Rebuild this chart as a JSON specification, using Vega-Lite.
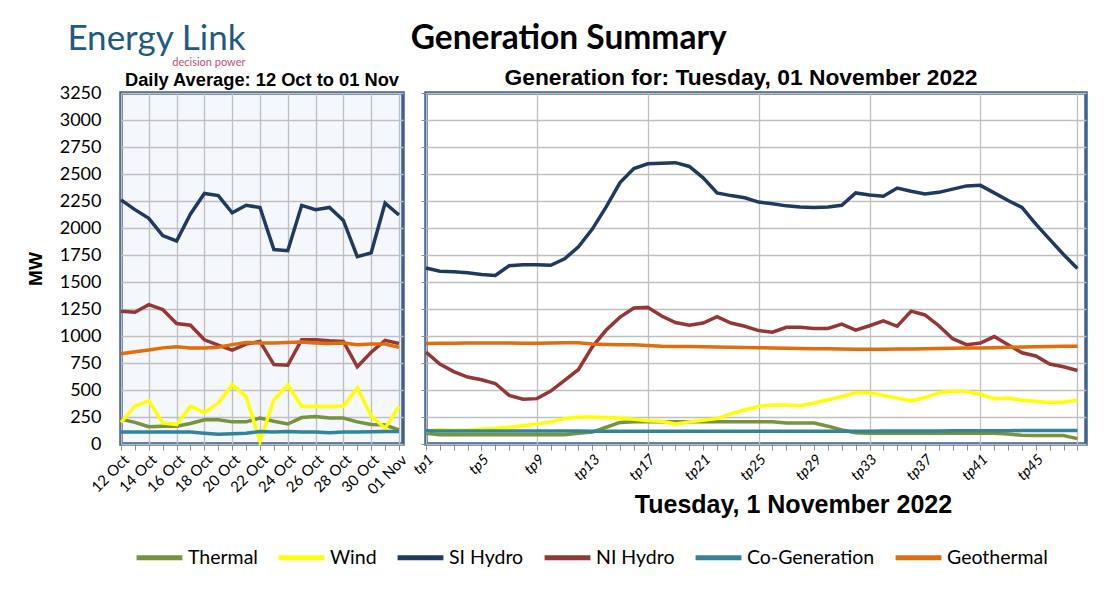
{
  "$schema": "https://vega.github.io/schema/vega-lite/v6.json",
  "background": "white",
  "padding": {"left": 24, "top": 22, "right": 20, "bottom": 10},
  "datasets": {
    "daily": [
      {"d":"12 Oct","s":"Thermal","v":230},{"d":"13 Oct","s":"Thermal","v":200},{"d":"14 Oct","s":"Thermal","v":160},{"d":"15 Oct","s":"Thermal","v":165},{"d":"16 Oct","s":"Thermal","v":165},{"d":"17 Oct","s":"Thermal","v":190},{"d":"18 Oct","s":"Thermal","v":225},{"d":"19 Oct","s":"Thermal","v":225},{"d":"20 Oct","s":"Thermal","v":205},{"d":"21 Oct","s":"Thermal","v":205},{"d":"22 Oct","s":"Thermal","v":240},{"d":"23 Oct","s":"Thermal","v":210},{"d":"24 Oct","s":"Thermal","v":185},{"d":"25 Oct","s":"Thermal","v":245},{"d":"26 Oct","s":"Thermal","v":255},{"d":"27 Oct","s":"Thermal","v":240},{"d":"28 Oct","s":"Thermal","v":240},{"d":"29 Oct","s":"Thermal","v":205},{"d":"30 Oct","s":"Thermal","v":180},{"d":"31 Oct","s":"Thermal","v":175},{"d":"01 Nov","s":"Thermal","v":130},
      {"d":"12 Oct","s":"Wind","v":200},{"d":"13 Oct","s":"Wind","v":350},{"d":"14 Oct","s":"Wind","v":400},{"d":"15 Oct","s":"Wind","v":195},{"d":"16 Oct","s":"Wind","v":180},{"d":"17 Oct","s":"Wind","v":350},{"d":"18 Oct","s":"Wind","v":290},{"d":"19 Oct","s":"Wind","v":380},{"d":"20 Oct","s":"Wind","v":550},{"d":"21 Oct","s":"Wind","v":440},{"d":"22 Oct","s":"Wind","v":25},{"d":"23 Oct","s":"Wind","v":410},{"d":"24 Oct","s":"Wind","v":545},{"d":"25 Oct","s":"Wind","v":350},{"d":"26 Oct","s":"Wind","v":350},{"d":"27 Oct","s":"Wind","v":350},{"d":"28 Oct","s":"Wind","v":350},{"d":"29 Oct","s":"Wind","v":520},{"d":"30 Oct","s":"Wind","v":260},{"d":"31 Oct","s":"Wind","v":145},{"d":"01 Nov","s":"Wind","v":350},
      {"d":"12 Oct","s":"SI Hydro","v":2260},{"d":"13 Oct","s":"SI Hydro","v":2170},{"d":"14 Oct","s":"SI Hydro","v":2090},{"d":"15 Oct","s":"SI Hydro","v":1930},{"d":"16 Oct","s":"SI Hydro","v":1880},{"d":"17 Oct","s":"SI Hydro","v":2130},{"d":"18 Oct","s":"SI Hydro","v":2320},{"d":"19 Oct","s":"SI Hydro","v":2300},{"d":"20 Oct","s":"SI Hydro","v":2140},{"d":"21 Oct","s":"SI Hydro","v":2210},{"d":"22 Oct","s":"SI Hydro","v":2190},{"d":"23 Oct","s":"SI Hydro","v":1800},{"d":"24 Oct","s":"SI Hydro","v":1790},{"d":"25 Oct","s":"SI Hydro","v":2210},{"d":"26 Oct","s":"SI Hydro","v":2170},{"d":"27 Oct","s":"SI Hydro","v":2190},{"d":"28 Oct","s":"SI Hydro","v":2070},{"d":"29 Oct","s":"SI Hydro","v":1735},{"d":"30 Oct","s":"SI Hydro","v":1770},{"d":"31 Oct","s":"SI Hydro","v":2230},{"d":"01 Nov","s":"SI Hydro","v":2120},
      {"d":"12 Oct","s":"NI Hydro","v":1230},{"d":"13 Oct","s":"NI Hydro","v":1220},{"d":"14 Oct","s":"NI Hydro","v":1290},{"d":"15 Oct","s":"NI Hydro","v":1245},{"d":"16 Oct","s":"NI Hydro","v":1115},{"d":"17 Oct","s":"NI Hydro","v":1100},{"d":"18 Oct","s":"NI Hydro","v":965},{"d":"19 Oct","s":"NI Hydro","v":915},{"d":"20 Oct","s":"NI Hydro","v":870},{"d":"21 Oct","s":"NI Hydro","v":925},{"d":"22 Oct","s":"NI Hydro","v":950},{"d":"23 Oct","s":"NI Hydro","v":735},{"d":"24 Oct","s":"NI Hydro","v":730},{"d":"25 Oct","s":"NI Hydro","v":965},{"d":"26 Oct","s":"NI Hydro","v":965},{"d":"27 Oct","s":"NI Hydro","v":955},{"d":"28 Oct","s":"NI Hydro","v":950},{"d":"29 Oct","s":"NI Hydro","v":715},{"d":"30 Oct","s":"NI Hydro","v":850},{"d":"31 Oct","s":"NI Hydro","v":960},{"d":"01 Nov","s":"NI Hydro","v":930},
      {"d":"12 Oct","s":"Co-Generation","v":110},{"d":"13 Oct","s":"Co-Generation","v":110},{"d":"14 Oct","s":"Co-Generation","v":110},{"d":"15 Oct","s":"Co-Generation","v":110},{"d":"16 Oct","s":"Co-Generation","v":110},{"d":"17 Oct","s":"Co-Generation","v":110},{"d":"18 Oct","s":"Co-Generation","v":100},{"d":"19 Oct","s":"Co-Generation","v":90},{"d":"20 Oct","s":"Co-Generation","v":95},{"d":"21 Oct","s":"Co-Generation","v":100},{"d":"22 Oct","s":"Co-Generation","v":115},{"d":"23 Oct","s":"Co-Generation","v":110},{"d":"24 Oct","s":"Co-Generation","v":115},{"d":"25 Oct","s":"Co-Generation","v":112},{"d":"26 Oct","s":"Co-Generation","v":110},{"d":"27 Oct","s":"Co-Generation","v":105},{"d":"28 Oct","s":"Co-Generation","v":110},{"d":"29 Oct","s":"Co-Generation","v":112},{"d":"30 Oct","s":"Co-Generation","v":113},{"d":"31 Oct","s":"Co-Generation","v":115},{"d":"01 Nov","s":"Co-Generation","v":115},
      {"d":"12 Oct","s":"Geothermal","v":835},{"d":"13 Oct","s":"Geothermal","v":855},{"d":"14 Oct","s":"Geothermal","v":870},{"d":"15 Oct","s":"Geothermal","v":890},{"d":"16 Oct","s":"Geothermal","v":900},{"d":"17 Oct","s":"Geothermal","v":890},{"d":"18 Oct","s":"Geothermal","v":890},{"d":"19 Oct","s":"Geothermal","v":895},{"d":"20 Oct","s":"Geothermal","v":920},{"d":"21 Oct","s":"Geothermal","v":940},{"d":"22 Oct","s":"Geothermal","v":935},{"d":"23 Oct","s":"Geothermal","v":935},{"d":"24 Oct","s":"Geothermal","v":940},{"d":"25 Oct","s":"Geothermal","v":945},{"d":"26 Oct","s":"Geothermal","v":935},{"d":"27 Oct","s":"Geothermal","v":930},{"d":"28 Oct","s":"Geothermal","v":935},{"d":"29 Oct","s":"Geothermal","v":920},{"d":"30 Oct","s":"Geothermal","v":925},{"d":"31 Oct","s":"Geothermal","v":925},{"d":"01 Nov","s":"Geothermal","v":895}
    ],
    "tp": [
      {"d":"tp1","s":"Thermal","v":100},{"d":"tp2","s":"Thermal","v":85},{"d":"tp3","s":"Thermal","v":85},{"d":"tp4","s":"Thermal","v":85},{"d":"tp5","s":"Thermal","v":85},{"d":"tp6","s":"Thermal","v":85},{"d":"tp7","s":"Thermal","v":85},{"d":"tp8","s":"Thermal","v":85},{"d":"tp9","s":"Thermal","v":85},{"d":"tp10","s":"Thermal","v":85},{"d":"tp11","s":"Thermal","v":85},{"d":"tp12","s":"Thermal","v":100},{"d":"tp13","s":"Thermal","v":110},{"d":"tp14","s":"Thermal","v":155},{"d":"tp15","s":"Thermal","v":200},{"d":"tp16","s":"Thermal","v":205},{"d":"tp17","s":"Thermal","v":205},{"d":"tp18","s":"Thermal","v":205},{"d":"tp19","s":"Thermal","v":205},{"d":"tp20","s":"Thermal","v":205},{"d":"tp21","s":"Thermal","v":205},{"d":"tp22","s":"Thermal","v":205},{"d":"tp23","s":"Thermal","v":205},{"d":"tp24","s":"Thermal","v":205},{"d":"tp25","s":"Thermal","v":205},{"d":"tp26","s":"Thermal","v":205},{"d":"tp27","s":"Thermal","v":195},{"d":"tp28","s":"Thermal","v":195},{"d":"tp29","s":"Thermal","v":195},{"d":"tp30","s":"Thermal","v":165},{"d":"tp31","s":"Thermal","v":130},{"d":"tp32","s":"Thermal","v":105},{"d":"tp33","s":"Thermal","v":100},{"d":"tp34","s":"Thermal","v":100},{"d":"tp35","s":"Thermal","v":100},{"d":"tp36","s":"Thermal","v":100},{"d":"tp37","s":"Thermal","v":100},{"d":"tp38","s":"Thermal","v":100},{"d":"tp39","s":"Thermal","v":100},{"d":"tp40","s":"Thermal","v":100},{"d":"tp41","s":"Thermal","v":100},{"d":"tp42","s":"Thermal","v":100},{"d":"tp43","s":"Thermal","v":92},{"d":"tp44","s":"Thermal","v":80},{"d":"tp45","s":"Thermal","v":78},{"d":"tp46","s":"Thermal","v":78},{"d":"tp47","s":"Thermal","v":78},{"d":"tp48","s":"Thermal","v":50},
      {"d":"tp1","s":"Wind","v":120},{"d":"tp2","s":"Wind","v":135},{"d":"tp3","s":"Wind","v":125},{"d":"tp4","s":"Wind","v":130},{"d":"tp5","s":"Wind","v":140},{"d":"tp6","s":"Wind","v":145},{"d":"tp7","s":"Wind","v":155},{"d":"tp8","s":"Wind","v":170},{"d":"tp9","s":"Wind","v":185},{"d":"tp10","s":"Wind","v":205},{"d":"tp11","s":"Wind","v":235},{"d":"tp12","s":"Wind","v":250},{"d":"tp13","s":"Wind","v":250},{"d":"tp14","s":"Wind","v":245},{"d":"tp15","s":"Wind","v":240},{"d":"tp16","s":"Wind","v":230},{"d":"tp17","s":"Wind","v":215},{"d":"tp18","s":"Wind","v":210},{"d":"tp19","s":"Wind","v":185},{"d":"tp20","s":"Wind","v":205},{"d":"tp21","s":"Wind","v":220},{"d":"tp22","s":"Wind","v":235},{"d":"tp23","s":"Wind","v":280},{"d":"tp24","s":"Wind","v":315},{"d":"tp25","s":"Wind","v":350},{"d":"tp26","s":"Wind","v":360},{"d":"tp27","s":"Wind","v":360},{"d":"tp28","s":"Wind","v":355},{"d":"tp29","s":"Wind","v":380},{"d":"tp30","s":"Wind","v":410},{"d":"tp31","s":"Wind","v":440},{"d":"tp32","s":"Wind","v":475},{"d":"tp33","s":"Wind","v":475},{"d":"tp34","s":"Wind","v":450},{"d":"tp35","s":"Wind","v":425},{"d":"tp36","s":"Wind","v":400},{"d":"tp37","s":"Wind","v":430},{"d":"tp38","s":"Wind","v":475},{"d":"tp39","s":"Wind","v":490},{"d":"tp40","s":"Wind","v":485},{"d":"tp41","s":"Wind","v":460},{"d":"tp42","s":"Wind","v":420},{"d":"tp43","s":"Wind","v":425},{"d":"tp44","s":"Wind","v":405},{"d":"tp45","s":"Wind","v":395},{"d":"tp46","s":"Wind","v":385},{"d":"tp47","s":"Wind","v":390},{"d":"tp48","s":"Wind","v":405},
      {"d":"tp1","s":"SI Hydro","v":1630},{"d":"tp2","s":"SI Hydro","v":1600},{"d":"tp3","s":"SI Hydro","v":1595},{"d":"tp4","s":"SI Hydro","v":1585},{"d":"tp5","s":"SI Hydro","v":1570},{"d":"tp6","s":"SI Hydro","v":1560},{"d":"tp7","s":"SI Hydro","v":1650},{"d":"tp8","s":"SI Hydro","v":1660},{"d":"tp9","s":"SI Hydro","v":1660},{"d":"tp10","s":"SI Hydro","v":1655},{"d":"tp11","s":"SI Hydro","v":1715},{"d":"tp12","s":"SI Hydro","v":1825},{"d":"tp13","s":"SI Hydro","v":1990},{"d":"tp14","s":"SI Hydro","v":2195},{"d":"tp15","s":"SI Hydro","v":2420},{"d":"tp16","s":"SI Hydro","v":2550},{"d":"tp17","s":"SI Hydro","v":2595},{"d":"tp18","s":"SI Hydro","v":2600},{"d":"tp19","s":"SI Hydro","v":2605},{"d":"tp20","s":"SI Hydro","v":2570},{"d":"tp21","s":"SI Hydro","v":2465},{"d":"tp22","s":"SI Hydro","v":2325},{"d":"tp23","s":"SI Hydro","v":2300},{"d":"tp24","s":"SI Hydro","v":2280},{"d":"tp25","s":"SI Hydro","v":2240},{"d":"tp26","s":"SI Hydro","v":2225},{"d":"tp27","s":"SI Hydro","v":2205},{"d":"tp28","s":"SI Hydro","v":2195},{"d":"tp29","s":"SI Hydro","v":2190},{"d":"tp30","s":"SI Hydro","v":2195},{"d":"tp31","s":"SI Hydro","v":2210},{"d":"tp32","s":"SI Hydro","v":2325},{"d":"tp33","s":"SI Hydro","v":2305},{"d":"tp34","s":"SI Hydro","v":2295},{"d":"tp35","s":"SI Hydro","v":2370},{"d":"tp36","s":"SI Hydro","v":2340},{"d":"tp37","s":"SI Hydro","v":2315},{"d":"tp38","s":"SI Hydro","v":2330},{"d":"tp39","s":"SI Hydro","v":2360},{"d":"tp40","s":"SI Hydro","v":2390},{"d":"tp41","s":"SI Hydro","v":2395},{"d":"tp42","s":"SI Hydro","v":2325},{"d":"tp43","s":"SI Hydro","v":2255},{"d":"tp44","s":"SI Hydro","v":2190},{"d":"tp45","s":"SI Hydro","v":2035},{"d":"tp46","s":"SI Hydro","v":1895},{"d":"tp47","s":"SI Hydro","v":1755},{"d":"tp48","s":"SI Hydro","v":1625},
      {"d":"tp1","s":"NI Hydro","v":850},{"d":"tp2","s":"NI Hydro","v":740},{"d":"tp3","s":"NI Hydro","v":670},{"d":"tp4","s":"NI Hydro","v":620},{"d":"tp5","s":"NI Hydro","v":595},{"d":"tp6","s":"NI Hydro","v":560},{"d":"tp7","s":"NI Hydro","v":450},{"d":"tp8","s":"NI Hydro","v":415},{"d":"tp9","s":"NI Hydro","v":420},{"d":"tp10","s":"NI Hydro","v":490},{"d":"tp11","s":"NI Hydro","v":590},{"d":"tp12","s":"NI Hydro","v":690},{"d":"tp13","s":"NI Hydro","v":900},{"d":"tp14","s":"NI Hydro","v":1055},{"d":"tp15","s":"NI Hydro","v":1175},{"d":"tp16","s":"NI Hydro","v":1260},{"d":"tp17","s":"NI Hydro","v":1265},{"d":"tp18","s":"NI Hydro","v":1185},{"d":"tp19","s":"NI Hydro","v":1125},{"d":"tp20","s":"NI Hydro","v":1100},{"d":"tp21","s":"NI Hydro","v":1120},{"d":"tp22","s":"NI Hydro","v":1180},{"d":"tp23","s":"NI Hydro","v":1120},{"d":"tp24","s":"NI Hydro","v":1090},{"d":"tp25","s":"NI Hydro","v":1050},{"d":"tp26","s":"NI Hydro","v":1035},{"d":"tp27","s":"NI Hydro","v":1080},{"d":"tp28","s":"NI Hydro","v":1080},{"d":"tp29","s":"NI Hydro","v":1070},{"d":"tp30","s":"NI Hydro","v":1070},{"d":"tp31","s":"NI Hydro","v":1110},{"d":"tp32","s":"NI Hydro","v":1055},{"d":"tp33","s":"NI Hydro","v":1095},{"d":"tp34","s":"NI Hydro","v":1140},{"d":"tp35","s":"NI Hydro","v":1090},{"d":"tp36","s":"NI Hydro","v":1230},{"d":"tp37","s":"NI Hydro","v":1195},{"d":"tp38","s":"NI Hydro","v":1095},{"d":"tp39","s":"NI Hydro","v":975},{"d":"tp40","s":"NI Hydro","v":920},{"d":"tp41","s":"NI Hydro","v":935},{"d":"tp42","s":"NI Hydro","v":995},{"d":"tp43","s":"NI Hydro","v":920},{"d":"tp44","s":"NI Hydro","v":845},{"d":"tp45","s":"NI Hydro","v":815},{"d":"tp46","s":"NI Hydro","v":740},{"d":"tp47","s":"NI Hydro","v":715},{"d":"tp48","s":"NI Hydro","v":680},
      {"d":"tp1","s":"Co-Generation","v":122},{"d":"tp2","s":"Co-Generation","v":120},{"d":"tp3","s":"Co-Generation","v":120},{"d":"tp4","s":"Co-Generation","v":120},{"d":"tp5","s":"Co-Generation","v":120},{"d":"tp6","s":"Co-Generation","v":120},{"d":"tp7","s":"Co-Generation","v":120},{"d":"tp8","s":"Co-Generation","v":120},{"d":"tp9","s":"Co-Generation","v":120},{"d":"tp10","s":"Co-Generation","v":120},{"d":"tp11","s":"Co-Generation","v":120},{"d":"tp12","s":"Co-Generation","v":120},{"d":"tp13","s":"Co-Generation","v":118},{"d":"tp14","s":"Co-Generation","v":118},{"d":"tp15","s":"Co-Generation","v":118},{"d":"tp16","s":"Co-Generation","v":118},{"d":"tp17","s":"Co-Generation","v":118},{"d":"tp18","s":"Co-Generation","v":118},{"d":"tp19","s":"Co-Generation","v":118},{"d":"tp20","s":"Co-Generation","v":118},{"d":"tp21","s":"Co-Generation","v":118},{"d":"tp22","s":"Co-Generation","v":118},{"d":"tp23","s":"Co-Generation","v":118},{"d":"tp24","s":"Co-Generation","v":118},{"d":"tp25","s":"Co-Generation","v":118},{"d":"tp26","s":"Co-Generation","v":118},{"d":"tp27","s":"Co-Generation","v":118},{"d":"tp28","s":"Co-Generation","v":118},{"d":"tp29","s":"Co-Generation","v":118},{"d":"tp30","s":"Co-Generation","v":118},{"d":"tp31","s":"Co-Generation","v":118},{"d":"tp32","s":"Co-Generation","v":118},{"d":"tp33","s":"Co-Generation","v":118},{"d":"tp34","s":"Co-Generation","v":120},{"d":"tp35","s":"Co-Generation","v":120},{"d":"tp36","s":"Co-Generation","v":120},{"d":"tp37","s":"Co-Generation","v":120},{"d":"tp38","s":"Co-Generation","v":120},{"d":"tp39","s":"Co-Generation","v":122},{"d":"tp40","s":"Co-Generation","v":122},{"d":"tp41","s":"Co-Generation","v":122},{"d":"tp42","s":"Co-Generation","v":122},{"d":"tp43","s":"Co-Generation","v":122},{"d":"tp44","s":"Co-Generation","v":125},{"d":"tp45","s":"Co-Generation","v":125},{"d":"tp46","s":"Co-Generation","v":125},{"d":"tp47","s":"Co-Generation","v":125},{"d":"tp48","s":"Co-Generation","v":125},
      {"d":"tp1","s":"Geothermal","v":930},{"d":"tp2","s":"Geothermal","v":932},{"d":"tp3","s":"Geothermal","v":933},{"d":"tp4","s":"Geothermal","v":935},{"d":"tp5","s":"Geothermal","v":935},{"d":"tp6","s":"Geothermal","v":935},{"d":"tp7","s":"Geothermal","v":935},{"d":"tp8","s":"Geothermal","v":933},{"d":"tp9","s":"Geothermal","v":933},{"d":"tp10","s":"Geothermal","v":935},{"d":"tp11","s":"Geothermal","v":937},{"d":"tp12","s":"Geothermal","v":937},{"d":"tp13","s":"Geothermal","v":925},{"d":"tp14","s":"Geothermal","v":922},{"d":"tp15","s":"Geothermal","v":920},{"d":"tp16","s":"Geothermal","v":920},{"d":"tp17","s":"Geothermal","v":912},{"d":"tp18","s":"Geothermal","v":905},{"d":"tp19","s":"Geothermal","v":903},{"d":"tp20","s":"Geothermal","v":902},{"d":"tp21","s":"Geothermal","v":900},{"d":"tp22","s":"Geothermal","v":898},{"d":"tp23","s":"Geothermal","v":896},{"d":"tp24","s":"Geothermal","v":894},{"d":"tp25","s":"Geothermal","v":892},{"d":"tp26","s":"Geothermal","v":890},{"d":"tp27","s":"Geothermal","v":887},{"d":"tp28","s":"Geothermal","v":885},{"d":"tp29","s":"Geothermal","v":883},{"d":"tp30","s":"Geothermal","v":882},{"d":"tp31","s":"Geothermal","v":880},{"d":"tp32","s":"Geothermal","v":878},{"d":"tp33","s":"Geothermal","v":878},{"d":"tp34","s":"Geothermal","v":878},{"d":"tp35","s":"Geothermal","v":879},{"d":"tp36","s":"Geothermal","v":880},{"d":"tp37","s":"Geothermal","v":882},{"d":"tp38","s":"Geothermal","v":884},{"d":"tp39","s":"Geothermal","v":886},{"d":"tp40","s":"Geothermal","v":888},{"d":"tp41","s":"Geothermal","v":890},{"d":"tp42","s":"Geothermal","v":892},{"d":"tp43","s":"Geothermal","v":895},{"d":"tp44","s":"Geothermal","v":898},{"d":"tp45","s":"Geothermal","v":900},{"d":"tp46","s":"Geothermal","v":902},{"d":"tp47","s":"Geothermal","v":904},{"d":"tp48","s":"Geothermal","v":905}
    ]
  },
  "title": {
    "text": "Energy Link",
    "subtitle": "decision power",
    "anchor": "start",
    "align": "right",
    "font": "Lato",
    "fontSize": 35,
    "fontWeight": "normal",
    "color": "#1F5A82",
    "subtitleFont": "Lato",
    "subtitleFontSize": 11,
    "subtitleColor": "#C0506E",
    "subtitlePadding": 0,
    "dx": 221,
    "dy": 50
  },
  "vconcat": [
    {
      "title": {"text": "Generation Summary", "font": "Lato", "fontSize": 33.5, "fontWeight": "bold", "color": "black", "anchor": "middle", "offset": 8, "dx": 12},
      "spacing": 23,
      "bounds": "flush",
      "hconcat": [
        {
          "width": 282,
          "height": 351,
          "view": {"fill": "#F4F7FB", "stroke": "#3E6190", "strokeWidth": 3.5},
          "title": {"text": "Daily Average: 12 Oct to 01 Nov", "font": "Liberation Sans", "fontSize": 18.3, "fontWeight": "bold", "color": "black", "anchor": "middle", "offset": -6},
          "data": {"name": "daily"},
          "mark": {"type": "line", "strokeWidth": 3.5},
          "encoding": {
            "x": {
              "field": "d", "type": "ordinal", "title": null,
              "scale": {"type": "point", "padding": 0.145, "align": 0, "domain": ["12 Oct","13 Oct","14 Oct","15 Oct","16 Oct","17 Oct","18 Oct","19 Oct","20 Oct","21 Oct","22 Oct","23 Oct","24 Oct","25 Oct","26 Oct","27 Oct","28 Oct","29 Oct","30 Oct","31 Oct","01 Nov"]},
              "axis": {
                "labelAngle": -45, "labelFont": "Lato", "labelFontSize": 15, "labelColor": "black", "labelOverlap": false, "labelPadding": 2,
                "labelExpr": "indexof(['12 Oct','14 Oct','16 Oct','18 Oct','20 Oct','22 Oct','24 Oct','26 Oct','28 Oct','30 Oct','01 Nov'], datum.value) >= 0 ? datum.value : ''",
                "tickSize": 6, "tickColor": "#8C8C8C", "domain": false, "grid": true, "gridColor": "#BFBFBF", "gridWidth": 1.3,
                "gridOpacity": {"condition": {"test": "indexof(['12 Oct','14 Oct','16 Oct','18 Oct','20 Oct','22 Oct','24 Oct','26 Oct','28 Oct','30 Oct','01 Nov'], datum.value) >= 0", "value": 1}, "value": 0}
              }
            },
            "y": {
              "field": "v", "type": "quantitative",
              "scale": {"domain": [0, 3250], "nice": false},
              "axis": {
                "values": [0,250,500,750,1000,1250,1500,1750,2000,2250,2500,2750,3000,3250], "format": "d",
                "title": "MW", "titleFont": "Liberation Sans", "titleFontSize": 19, "titleFontWeight": "bold", "titleColor": "black", "titlePadding": 14,
                "labelFont": "Lato", "labelFontSize": 18, "labelColor": "black", "labelPadding": 20, "tickSize": 0, "domain": false,
                "grid": true, "gridColor": "#BFBFBF", "gridWidth": 1.3
              }
            },
            "color": {
              "field": "s", "type": "nominal",
              "scale": {"domain": ["Thermal","Wind","SI Hydro","NI Hydro","Co-Generation","Geothermal"], "range": ["#77933C","#FFFF00","#1F3A5F","#953735","#31849B","#E46C0A"]},
              "legend": {"orient": "none", "legendX": 13, "legendY": 439, "direction": "horizontal", "title": null, "symbolType": "stroke", "symbolStrokeWidth": 5, "symbolSize": 2100, "labelFont": "Lato", "labelFontSize": 19.5, "labelColor": "black", "columnPadding": 10, "labelOffset": 3}
            }
          }
        },
        {
          "width": 660,
          "height": 351,
          "view": {"stroke": "#3E6190", "strokeWidth": 3.5},
          "title": {"text": "Generation for: Tuesday, 01 November 2022", "font": "Liberation Sans", "fontSize": 22.8, "fontWeight": "bold", "color": "black", "anchor": "middle", "offset": 3, "dx": -15},
          "data": {"name": "tp"},
          "mark": {"type": "line", "strokeWidth": 3.5},
          "encoding": {
            "x": {
              "field": "d", "type": "ordinal",
              "scale": {"type": "point", "padding": 0.31, "align": 0, "domain": ["tp1","tp2","tp3","tp4","tp5","tp6","tp7","tp8","tp9","tp10","tp11","tp12","tp13","tp14","tp15","tp16","tp17","tp18","tp19","tp20","tp21","tp22","tp23","tp24","tp25","tp26","tp27","tp28","tp29","tp30","tp31","tp32","tp33","tp34","tp35","tp36","tp37","tp38","tp39","tp40","tp41","tp42","tp43","tp44","tp45","tp46","tp47","tp48"]},
              "axis": {
                "title": "Tuesday, 1 November 2022", "titleFont": "Liberation Sans", "titleFontSize": 25, "titleFontWeight": "bold", "titleColor": "black", "titleX": 367, "titlePadding": 10,
                "labelAngle": -45, "labelFont": "Lato", "labelFontSize": 14.5, "labelFontStyle": "italic", "labelColor": "black", "labelOverlap": false, "labelPadding": 2,
                "labelExpr": "indexof(['tp1','tp5','tp9','tp13','tp17','tp21','tp25','tp29','tp33','tp37','tp41','tp45'], datum.value) >= 0 ? datum.value : ''",
                "tickSize": 6, "tickColor": "#8C8C8C", "domain": false, "grid": true, "gridColor": "#BFBFBF", "gridWidth": 1.3,
                "gridOpacity": {"condition": {"test": "indexof(['tp1','tp9','tp17','tp25','tp33','tp41','tp48'], datum.value) >= 0", "value": 1}, "value": 0}
              }
            },
            "y": {
              "field": "v", "type": "quantitative",
              "scale": {"domain": [0, 3250], "nice": false},
              "axis": {
                "values": [0,250,500,750,1000,1250,1500,1750,2000,2250,2500,2750,3000,3250],
                "title": null, "labels": false, "tickSize": 5, "tickColor": "#8C8C8C", "domain": false,
                "grid": true, "gridColor": "#BFBFBF", "gridWidth": 1.3
              }
            },
            "color": {
              "field": "s", "type": "nominal",
              "scale": {"domain": ["Thermal","Wind","SI Hydro","NI Hydro","Co-Generation","Geothermal"], "range": ["#77933C","#FFFF00","#1F3A5F","#953735","#31849B","#E46C0A"]},
              "legend": {"orient": "none", "legendX": 13, "legendY": 439, "direction": "horizontal", "title": null, "symbolType": "stroke", "symbolStrokeWidth": 5, "symbolSize": 2100, "labelFont": "Lato", "labelFontSize": 19.5, "labelColor": "black", "columnPadding": 10, "labelOffset": 3}
            }
          }
        }
      ]
    }
  ],
  "config": {
    "view": {"stroke": null}
  }
}
